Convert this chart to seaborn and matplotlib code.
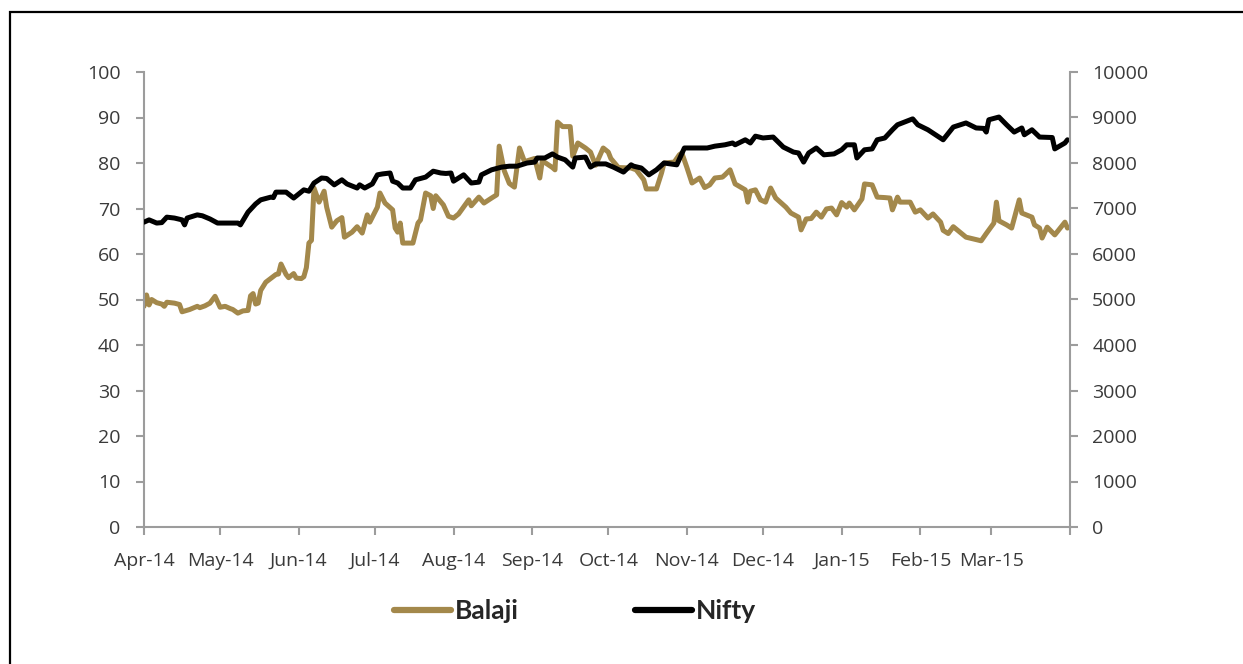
import matplotlib
matplotlib.use("Agg")
import matplotlib.pyplot as plt
import seaborn as sns
import pandas as pd
from matplotlib.lines import Line2D
from matplotlib.patches import Rectangle

# ---------------- data ----------------
balaji_dates = [
    "2014-04-01", "2014-04-02", "2014-04-03", "2014-04-04", "2014-04-06", "2014-04-08", "2014-04-09", "2014-04-10",
    "2014-04-13", "2014-04-15", "2014-04-16", "2014-04-19", "2014-04-22", "2014-04-23", "2014-04-25", "2014-04-27",
    "2014-04-29", "2014-05-01", "2014-05-03", "2014-05-05", "2014-05-06", "2014-05-08", "2014-05-10", "2014-05-12",
    "2014-05-13", "2014-05-14", "2014-05-15", "2014-05-16", "2014-05-17", "2014-05-19", "2014-05-23", "2014-05-24",
    "2014-05-25", "2014-05-27", "2014-05-28", "2014-05-30", "2014-05-31", "2014-06-02", "2014-06-03", "2014-06-04",
    "2014-06-05", "2014-06-06", "2014-06-07", "2014-06-09", "2014-06-11", "2014-06-12", "2014-06-14", "2014-06-16",
    "2014-06-18", "2014-06-19", "2014-06-22", "2014-06-24", "2014-06-26", "2014-06-28", "2014-06-29", "2014-07-02",
    "2014-07-03", "2014-07-05", "2014-07-08", "2014-07-09", "2014-07-10", "2014-07-11", "2014-07-12", "2014-07-16",
    "2014-07-18", "2014-07-19", "2014-07-21", "2014-07-23", "2014-07-24", "2014-07-25", "2014-07-28", "2014-07-30",
    "2014-08-01", "2014-08-03", "2014-08-07", "2014-08-08", "2014-08-11", "2014-08-13", "2014-08-16", "2014-08-18",
    "2014-08-19", "2014-08-21", "2014-08-23", "2014-08-25", "2014-08-27", "2014-08-29", "2014-09-02", "2014-09-04",
    "2014-09-05", "2014-09-09", "2014-09-10", "2014-09-11", "2014-09-13", "2014-09-16", "2014-09-17", "2014-09-19",
    "2014-09-22", "2014-09-24", "2014-09-26", "2014-09-29", "2014-10-01", "2014-10-02", "2014-10-05", "2014-10-10",
    "2014-10-12", "2014-10-15", "2014-10-16", "2014-10-20", "2014-10-22", "2014-10-23", "2014-10-27", "2014-10-29",
    "2014-10-30", "2014-11-01", "2014-11-03", "2014-11-06", "2014-11-08", "2014-11-10", "2014-11-12", "2014-11-15",
    "2014-11-16", "2014-11-18", "2014-11-20", "2014-11-24", "2014-11-25", "2014-11-26", "2014-11-28", "2014-11-30",
    "2014-12-02", "2014-12-04", "2014-12-06", "2014-12-10", "2014-12-12", "2014-12-15", "2014-12-16", "2014-12-18",
    "2014-12-20", "2014-12-22", "2014-12-24", "2014-12-26", "2014-12-28", "2014-12-30", "2015-01-01", "2015-01-03",
    "2015-01-04", "2015-01-06", "2015-01-09", "2015-01-10", "2015-01-13", "2015-01-15", "2015-01-18", "2015-01-20",
    "2015-01-21", "2015-01-23", "2015-01-24", "2015-01-28", "2015-01-30", "2015-02-01", "2015-02-04", "2015-02-06",
    "2015-02-09", "2015-02-10", "2015-02-12", "2015-02-14", "2015-02-19", "2015-02-25", "2015-02-27", "2015-03-02",
    "2015-03-03", "2015-03-04", "2015-03-07", "2015-03-09", "2015-03-12", "2015-03-13", "2015-03-17", "2015-03-18",
    "2015-03-20", "2015-03-21", "2015-03-23", "2015-03-26", "2015-03-30", "2015-03-31",
]
balaji_values = [
    48.5, 51.0, 48.8, 50.0, 49.3, 49.0, 48.5, 49.4,
    49.2, 48.9, 47.3, 47.8, 48.5, 48.2, 48.6, 49.2,
    50.7, 48.3, 48.5, 48.0, 47.8, 47.0, 47.5, 47.6,
    50.8, 51.3, 49.0, 49.2, 52.0, 53.8, 55.5, 55.6,
    57.8, 55.5, 54.8, 55.7, 54.7, 54.6, 55.0, 57.0,
    62.4, 63.0, 74.5, 71.4, 73.8, 70.3, 65.9, 67.3,
    68.0, 63.7, 64.8, 66.0, 64.6, 68.6, 67.0, 70.3,
    73.4, 71.2, 69.7, 65.7, 64.8, 66.8, 62.4, 62.4,
    66.8, 67.5, 73.4, 72.8, 70.0, 72.8, 70.8, 68.3,
    67.9, 68.8, 71.9, 70.6, 72.5, 71.2, 72.3, 73.0,
    83.7, 78.3, 75.5, 74.7, 83.3, 80.3, 81.0, 76.7,
    80.5, 79.0, 78.5, 89.0, 88.0, 88.0, 81.5, 84.4,
    83.3, 82.4, 79.5, 83.3, 82.4, 81.0, 79.0, 78.9,
    78.5, 76.3, 74.3, 74.3, 77.8, 80.0, 80.2, 81.8,
    82.2, 79.0, 75.6, 76.7, 74.6, 75.2, 76.7, 76.9,
    77.4, 78.5, 75.4, 74.1, 71.4, 73.8, 74.1, 71.9,
    71.4, 74.5, 72.3, 70.3, 69.0, 68.1, 65.3, 67.7,
    67.8, 69.2, 68.1, 69.9, 70.1, 68.6, 71.3, 70.3,
    71.2, 69.7, 72.1, 75.4, 75.2, 72.5, 72.4, 72.3,
    69.7, 72.5, 71.4, 71.4, 69.2, 69.7, 67.9, 68.8,
    67.0, 65.2, 64.5, 66.0, 63.7, 62.9, 64.5, 66.8,
    71.4, 67.3, 66.4, 65.7, 71.9, 69.0, 68.1, 66.4,
    65.7, 63.5, 65.9, 64.2, 67.0, 65.7,
]

nifty_dates = [
    "2014-04-01", "2014-04-03", "2014-04-06", "2014-04-08", "2014-04-10", "2014-04-13", "2014-04-16", "2014-04-17",
    "2014-04-18", "2014-04-22", "2014-04-24", "2014-04-27", "2014-04-30", "2014-05-08", "2014-05-09", "2014-05-12",
    "2014-05-15", "2014-05-17", "2014-05-21", "2014-05-22", "2014-05-23", "2014-05-27", "2014-05-30", "2014-06-03",
    "2014-06-05", "2014-06-07", "2014-06-10", "2014-06-12", "2014-06-15", "2014-06-18", "2014-06-20", "2014-06-24",
    "2014-06-25", "2014-06-27", "2014-06-30", "2014-07-02", "2014-07-04", "2014-07-07", "2014-07-08", "2014-07-10",
    "2014-07-12", "2014-07-15", "2014-07-17", "2014-07-21", "2014-07-24", "2014-07-27", "2014-07-29", "2014-07-31",
    "2014-08-01", "2014-08-05", "2014-08-08", "2014-08-11", "2014-08-12", "2014-08-16", "2014-08-20", "2014-08-23",
    "2014-08-26", "2014-08-30", "2014-09-02", "2014-09-03", "2014-09-06", "2014-09-09", "2014-09-11", "2014-09-14",
    "2014-09-17", "2014-09-18", "2014-09-22", "2014-09-24", "2014-09-26", "2014-09-30", "2014-10-03", "2014-10-07",
    "2014-10-10", "2014-10-11", "2014-10-14", "2014-10-17", "2014-10-20", "2014-10-23", "2014-10-28", "2014-10-31",
    "2014-11-09", "2014-11-12", "2014-11-16", "2014-11-19", "2014-11-20", "2014-11-24", "2014-11-26", "2014-11-28",
    "2014-12-01", "2014-12-05", "2014-12-09", "2014-12-13", "2014-12-15", "2014-12-17", "2014-12-19", "2014-12-22",
    "2014-12-25", "2014-12-29", "2015-01-01", "2015-01-03", "2015-01-06", "2015-01-07", "2015-01-10", "2015-01-13",
    "2015-01-15", "2015-01-18", "2015-01-21", "2015-01-23", "2015-01-29", "2015-01-31", "2015-02-04", "2015-02-10",
    "2015-02-14", "2015-02-19", "2015-02-23", "2015-02-26", "2015-02-27", "2015-02-28", "2015-03-04", "2015-03-07",
    "2015-03-10", "2015-03-13", "2015-03-14", "2015-03-17", "2015-03-20", "2015-03-25", "2015-03-26", "2015-03-30",
    "2015-03-31",
]
nifty_values = [
    6700, 6750, 6680, 6690, 6810, 6790, 6750, 6640,
    6790, 6860, 6840, 6770, 6680, 6680, 6640, 6920,
    7100, 7190, 7250, 7240, 7360, 7360, 7230, 7410,
    7380, 7560, 7670, 7660, 7520, 7630, 7540, 7450,
    7520, 7450, 7540, 7740, 7760, 7780, 7600, 7560,
    7450, 7450, 7630, 7690, 7820, 7780, 7770, 7780,
    7600, 7740, 7560, 7580, 7740, 7850, 7910, 7930,
    7930, 8000, 8020, 8110, 8110, 8200, 8130, 8070,
    7910, 8110, 8130, 7910, 7980, 7980, 7910, 7800,
    7960, 7930, 7890, 7740, 7850, 8000, 7960, 8330,
    8330, 8370, 8400, 8440, 8400, 8510, 8440, 8590,
    8550, 8570, 8350, 8240, 8220, 8020, 8220, 8330,
    8180, 8200, 8290, 8400, 8400, 8110, 8290, 8310,
    8510, 8550, 8730, 8840, 8970, 8840, 8730, 8510,
    8790, 8880, 8770, 8760, 8680, 8950, 9010, 8840,
    8680, 8770, 8620, 8730, 8570, 8560, 8310, 8440,
    8510,
]

series_names = ["Balaji", "Nifty"]
month_ticks = pd.date_range("2014-04-01", "2015-04-01", freq="MS")
month_labels = ["Apr-14", "May-14", "Jun-14", "Jul-14", "Aug-14", "Sep-14", "Oct-14",
                "Nov-14", "Dec-14", "Jan-15", "Feb-15", "Mar-15", ""]
left_ticks = list(range(0, 101, 10))
right_ticks = list(range(0, 10001, 1000))

# ---------------- style ----------------
GOLD = "#A3884B"
AXIS_GRAY = "#9C9C9C"
TEXT = "#3A3A3A"

sns.set_style("white")
plt.rcParams["font.family"] = ["Open Sans", "DejaVu Sans"]

W, H = 1243, 664
fig = plt.figure(figsize=(W / 100, H / 100), dpi=100)
ax = fig.add_axes([144 / W, 1 - 527 / H, (1070 - 144) / W, (527 - 72) / H])
ax.patch.set_alpha(0)

bal_df = pd.DataFrame({"date": pd.to_datetime(balaji_dates), "value": balaji_values})
nif_df = pd.DataFrame({"date": pd.to_datetime(nifty_dates), "value": nifty_values})

sns.lineplot(data=bal_df, x="date", y="value", ax=ax, color=GOLD, lw=3.6,
             estimator=None, sort=False, legend=False)
ax2 = ax.twinx()
sns.lineplot(data=nif_df, x="date", y="value", ax=ax2, color="black", lw=3.6,
             estimator=None, sort=False, legend=False)

ax.set_xlim(pd.Timestamp("2014-04-01"), pd.Timestamp("2015-04-01"))
ax.set_ylim(0, 100)
ax2.set_ylim(0, 10000)

ax.set_xticks(month_ticks)
ax.set_xticklabels(month_labels)
ax.set_yticks(left_ticks)
ax2.set_yticks(right_ticks)
ax.set_xlabel("")
ax.set_ylabel("")
ax2.set_xlabel("")
ax2.set_ylabel("")

for a in (ax, ax2):
    for s in a.spines.values():
        s.set_visible(False)
ax.spines["left"].set_visible(True)
ax.spines["bottom"].set_visible(True)
ax2.spines["right"].set_visible(True)
for s in (ax.spines["left"], ax.spines["bottom"], ax2.spines["right"]):
    s.set_color(AXIS_GRAY)
    s.set_linewidth(1.5)

ax.tick_params(axis="y", left=True, right=False, direction="out", length=6, width=1.5,
               color=AXIS_GRAY, pad=11, labelsize=14, labelcolor=TEXT)
ax.tick_params(axis="x", bottom=True, direction="out", length=6, width=1.5,
               color=AXIS_GRAY, pad=12, labelsize=14, labelcolor=TEXT)
ax2.tick_params(axis="y", right=True, left=False, direction="out", length=6, width=1.5,
                color=AXIS_GRAY, pad=10, labelsize=14, labelcolor=TEXT)
ax.grid(False)
ax2.grid(False)

# legend
handles = [Line2D([], [], color=GOLD, lw=4.5, solid_capstyle="round"),
           Line2D([], [], color="black", lw=4.5, solid_capstyle="round")]
fig.legend(handles, series_names, loc="center", bbox_to_anchor=(575 / W, 1 - 611 / H),
           ncol=2, frameon=False, handlelength=2.15, handletextpad=0.15, columnspacing=4.4,
           prop={"family": ["Lato", "DejaVu Sans"], "weight": "bold", "size": 19})

# outer border
fig.add_artist(Rectangle((10 / W, -0.2), 1.5, 1.2 - 12 / H, transform=fig.transFigure,
                         fill=False, edgecolor="black", lw=1.6))

fig.savefig("out.png", dpi=100)
